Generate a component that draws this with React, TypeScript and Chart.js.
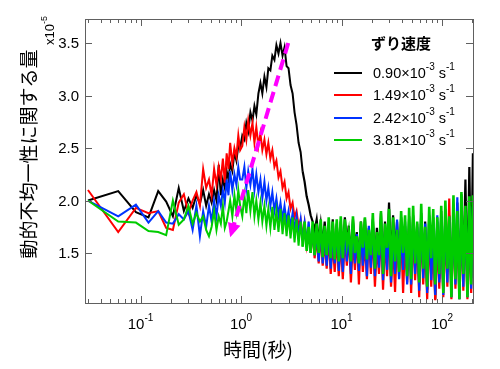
import React, { useEffect, useRef } from "react";
import { Chart, registerables } from "chart.js";

Chart.register(...registerables);

// ---- data (time in s, values ×10^-5) ----
const times = [
  0.03, 0.06, 0.09, 0.12, 0.15, 0.18, 0.21, 0.24, 0.27, 0.30, 0.33, 0.36, 0.39, 0.42, 0.45, 0.48,
  0.51, 0.54, 0.57, 0.60, 0.63, 0.66, 0.69, 0.72, 0.75, 0.78, 0.82, 0.86, 0.90, 0.94, 0.98,
  1.03, 1.08, 1.13, 1.18, 1.24, 1.30, 1.36, 1.42, 1.49, 1.56, 1.63, 1.71, 1.79, 1.87, 1.96, 2.05, 2.15, 2.25, 2.36, 2.47,
  2.59, 2.71, 2.84, 2.97, 3.11, 3.26, 3.41, 3.57, 3.74, 3.92, 4.10, 4.29, 4.50, 4.71, 4.93, 5.16, 5.40, 5.66, 5.93, 6.21,
  6.50, 6.80, 7.12, 7.46, 7.81, 8.18, 8.56, 8.97, 9.39, 9.83,
  10.3, 10.8, 11.3, 11.8, 12.4, 13.0, 13.6, 14.2, 14.9, 15.6, 16.3, 17.1, 17.9, 18.7, 19.6,
  20.5, 21.5, 22.5, 23.6, 24.7, 25.9, 27.1, 28.4, 29.7, 31.1, 32.6, 34.1, 35.7, 37.4, 39.2, 41.0, 42.9, 45.0, 47.1,
  49.3, 51.6, 54.0, 56.6, 59.3, 62.1, 65.0, 68.0, 71.2, 74.6, 78.1, 81.8, 85.6, 89.7, 93.9, 98.3,
  103, 108, 113, 118, 124, 130, 136, 142, 149, 156, 163, 171, 179, 187, 195, 203,
];

const black = [
  2.00, 2.09, 1.89, 1.84, 2.09, 1.99, 1.85, 2.12, 1.90, 2.02, 1.93, 2.05, 1.97, 2.10, 1.95, 2.06,
  1.98, 2.10, 2.00, 2.34, 2.05, 2.20, 2.12, 2.28, 2.20, 2.35, 2.28, 2.46, 2.38, 2.52, 2.50,
  2.62, 2.58, 2.74, 2.66, 2.84, 2.76, 2.90, 2.82, 3.02, 3.12, 3.02, 3.18, 3.08, 3.26, 3.24, 3.38, 3.34, 3.48, 3.40, 3.50,
  3.38, 3.46, 3.28, 3.26, 3.10, 3.02, 2.84, 2.72, 2.55, 2.46, 2.28, 2.18, 2.04, 1.96, 1.86, 1.80, 1.72, 1.82, 1.62, 1.78,
  1.58, 1.80, 1.55, 1.75, 1.50, 1.82, 1.45, 1.78, 1.40, 1.80,
  1.50, 1.84, 1.58, 1.76, 1.46, 1.82, 1.55, 1.70, 1.44, 1.80, 1.52, 1.83, 1.48, 1.74, 1.50,
  1.82, 1.42, 1.74, 1.50, 1.88, 1.38, 1.80, 1.46, 1.98, 1.42, 1.86, 1.52, 1.80, 1.40, 1.84, 1.48, 1.76, 1.32, 1.85,
  1.30, 1.86, 1.42, 1.78, 1.22, 1.88, 1.36, 1.80, 1.15, 1.86, 1.30, 1.84, 1.06, 1.80, 1.25, 1.90,
  1.18, 1.92, 1.32, 1.86, 1.20, 1.94, 1.28, 1.98, 1.16, 2.06, 1.30, 2.20, 1.14, 2.32, 1.26, 2.45,
];

const red = [
  2.10, 1.70, 1.93, 1.88, 1.90, 1.74, 1.72, 1.98, 2.06, 1.88, 2.00, 2.08, 1.95, 2.30, 2.12, 2.20,
  2.05, 2.30, 2.15, 2.32, 2.20, 2.40, 2.17, 2.45, 2.30, 2.55, 2.35, 2.50, 2.42, 2.62, 2.48,
  2.52, 2.70, 2.58, 2.76, 2.62, 2.74, 2.55, 2.70, 2.52, 2.64, 2.48, 2.58, 2.44, 2.55, 2.40, 2.48, 2.32, 2.38, 2.22, 2.28,
  2.12, 2.18, 2.02, 2.08, 1.92, 1.98, 1.84, 1.90, 1.76, 1.82, 1.66, 1.78, 1.58, 1.72, 1.52, 1.70, 1.45, 1.65, 1.40, 1.68,
  1.38, 1.62, 1.35, 1.66, 1.30, 1.60, 1.32, 1.65, 1.28, 1.62,
  1.25, 1.65, 1.38, 1.70, 1.22, 1.62, 1.34, 1.68, 1.20, 1.72, 1.32, 1.60, 1.25, 1.66, 1.30,
  1.70, 1.18, 1.58, 1.30, 1.72, 1.15, 1.64, 1.28, 1.75, 1.18, 1.60, 1.13, 1.68, 1.26, 1.70, 1.12, 1.62, 1.22, 1.74,
  1.12, 1.70, 1.24, 1.65, 1.08, 1.75, 1.20, 1.60, 1.06, 1.72, 1.18, 1.68, 1.05, 1.62, 1.16, 1.70,
  1.08, 1.72, 1.18, 2.02, 1.06, 1.78, 1.16, 1.72, 1.06, 1.75, 1.14, 1.80, 1.06, 1.70, 1.12, 1.76,
];

const blue = [
  2.00, 1.85, 1.96, 1.79, 1.90, 1.79, 1.78, 1.87, 1.82, 1.90, 1.72, 1.95, 1.66, 1.90, 1.75, 1.95,
  1.80, 2.00, 1.85, 2.05, 1.95, 2.10, 1.98, 2.20, 2.05, 2.28, 2.10, 2.25, 2.15, 2.32, 2.20,
  2.20, 2.32, 2.12, 2.28, 2.15, 2.30, 2.10, 2.25, 2.08, 2.20, 2.02, 2.18, 2.00, 2.12, 1.95, 2.08, 1.90, 2.02, 1.86, 1.98,
  1.82, 1.95, 1.80, 1.90, 1.75, 1.88, 1.72, 1.85, 1.68, 1.82, 1.62, 1.78, 1.58, 1.80, 1.50, 1.76, 1.48, 1.72, 1.42, 1.78,
  1.40, 1.70, 1.38, 1.75, 1.35, 1.70, 1.40, 1.76, 1.33, 1.72,
  1.32, 1.75, 1.42, 1.70, 1.30, 1.78, 1.40, 1.68, 1.33, 1.74, 1.38, 1.70, 1.28, 1.76, 1.36,
  1.78, 1.28, 1.66, 1.36, 1.80, 1.24, 1.70, 1.34, 1.78, 1.22, 1.68, 1.30, 1.82, 1.25, 1.72, 1.34, 1.80, 1.20, 1.76,
  1.20, 1.82, 1.30, 1.75, 1.14, 1.85, 1.26, 1.78, 1.12, 1.84, 1.24, 1.80, 1.10, 1.86, 1.22, 1.85,
  1.10, 1.88, 1.22, 1.84, 1.08, 1.90, 1.20, 2.03, 1.06, 1.92, 1.18, 1.88, 1.08, 1.95, 1.16, 1.94,
];

const green = [
  2.00, 1.80, 1.79, 1.71, 1.70, 1.67, 2.00, 1.77, 1.82, 1.95, 1.78, 1.88, 1.80, 1.85, 1.72, 1.66,
  1.75, 1.90, 1.72, 1.85, 1.78, 1.95, 1.74, 1.80, 1.90, 2.00, 1.85, 2.05, 1.90, 2.10, 1.95,
  1.85, 2.05, 1.88, 2.10, 1.90, 2.08, 1.85, 2.00, 1.82, 1.98, 1.80, 1.95, 1.76, 1.92, 1.74, 1.94, 1.72, 1.90, 1.70, 1.92,
  1.68, 1.88, 1.66, 1.86, 1.64, 1.84, 1.60, 1.82, 1.57, 1.80, 1.56, 1.80, 1.52, 1.75, 1.50, 1.80, 1.48, 1.78, 1.50, 1.82,
  1.46, 1.76, 1.48, 1.84, 1.45, 1.80, 1.44, 1.82, 1.42, 1.85,
  1.45, 1.82, 1.58, 1.70, 1.42, 1.85, 1.50, 1.66, 1.40, 1.80, 1.55, 1.84, 1.44, 1.72, 1.48,
  1.88, 1.35, 1.70, 1.48, 1.90, 1.30, 1.78, 1.55, 1.92, 1.28, 1.84, 1.42, 1.72, 1.32, 1.90, 1.50, 1.86, 1.28, 1.93,
  1.25, 1.95, 1.40, 1.80, 1.22, 1.97, 1.35, 1.75, 1.18, 1.94, 1.45, 1.92, 1.20, 1.84, 1.30, 1.95,
  1.12, 2.00, 1.35, 1.85, 1.08, 2.05, 1.25, 1.90, 1.06, 2.08, 1.30, 1.95, 1.08, 2.04, 1.20, 2.05,
];

const seriesRates = ["0.90", "1.49", "2.42", "3.81"];
const seriesColors = ["#000000", "#ff0000", "#0033ff", "#00cc00"];
const legendTitle = "ずり速度";

// arrow: [time, value] start and tip
const arrowStart = [2.95, 3.5];
const arrowTip = [0.78, 1.65];

const yTicks = [1.5, 2.0, 2.5, 3.0, 3.5];
const yTickLabels = ["1.5", "2.0", "2.5", "3.0", "3.5"];
const xMajor = [0.1, 1, 10, 100];
const xMajorExp = ["-1", "0", "1", "2"];
const xMinor = [0.03, 0.04, 0.05, 0.06, 0.07, 0.08, 0.09, 0.2, 0.3, 0.4, 0.5, 0.6, 0.7, 0.8, 0.9,
  2, 3, 4, 5, 6, 7, 8, 9, 20, 30, 40, 50, 60, 70, 80, 90, 200];

const xTitle = "時間(秒)";
const yTitle = "動的不均一性に関する量";

const FONT_NUM = '"Liberation Sans", Arial, sans-serif';
const FONT_JP = '"Noto Sans CJK JP", sans-serif';
const AXIS = "#606060";

const overlay = {
  id: "overlay",
  afterDatasetsDraw(chart: any) {
    const ctx = chart.ctx as CanvasRenderingContext2D;
    const { left, right, top, bottom } = chart.chartArea;
    const xs = chart.scales.x;
    const ys = chart.scales.y;
    ctx.save();

    // arrow head
    const sx = xs.getPixelForValue(arrowStart[0]);
    const sy = ys.getPixelForValue(arrowStart[1]);
    const tx = xs.getPixelForValue(arrowTip[0]);
    const ty = ys.getPixelForValue(arrowTip[1]);
    const ang = Math.atan2(ty - sy, tx - sx);
    const L = 14, W = 6.5;
    const bx = tx - L * Math.cos(ang), by = ty - L * Math.sin(ang);
    ctx.fillStyle = "#ff00ff";
    ctx.beginPath();
    ctx.moveTo(tx, ty);
    ctx.lineTo(bx + W * Math.sin(ang), by - W * Math.cos(ang));
    ctx.lineTo(bx - W * Math.sin(ang), by + W * Math.cos(ang));
    ctx.closePath();
    ctx.fill();

    // frame
    ctx.strokeStyle = AXIS;
    ctx.lineWidth = 1;
    ctx.strokeRect(Math.round(left) + 0.5, Math.round(top) + 0.5, Math.round(right - left), Math.round(bottom - top));

    // ticks
    ctx.beginPath();
    const tickX = (v: number, len: number) => {
      const p = Math.round(xs.getPixelForValue(v)) + 0.5;
      ctx.moveTo(p, bottom); ctx.lineTo(p, bottom - len);
      ctx.moveTo(p, top); ctx.lineTo(p, top + len);
    };
    xMajor.forEach((v) => tickX(v, 7));
    xMinor.forEach((v) => tickX(v, 4));
    yTicks.forEach((v) => {
      const p = Math.round(ys.getPixelForValue(v)) + 0.5;
      ctx.moveTo(left, p); ctx.lineTo(left + 7, p);
      ctx.moveTo(right, p); ctx.lineTo(right - 7, p);
    });
    ctx.stroke();

    ctx.fillStyle = "#000";
    // y tick labels
    ctx.font = `15px ${FONT_NUM}`;
    ctx.textAlign = "right";
    ctx.textBaseline = "middle";
    yTicks.forEach((v, i) => ctx.fillText(yTickLabels[i], left - 6, ys.getPixelForValue(v) + 1));

    // x tick labels with superscript
    ctx.textAlign = "left";
    ctx.textBaseline = "alphabetic";
    xMajor.forEach((v, i) => {
      const p = xs.getPixelForValue(v);
      ctx.font = `15px ${FONT_NUM}`;
      const wb = ctx.measureText("10").width;
      ctx.font = `10px ${FONT_NUM}`;
      const ws = ctx.measureText(xMajorExp[i]).width;
      const x0 = p - (wb + ws) / 2;
      ctx.font = `15px ${FONT_NUM}`;
      ctx.fillText("10", x0, bottom + 26);
      ctx.font = `10px ${FONT_NUM}`;
      ctx.fillText(xMajorExp[i], x0 + wb, bottom + 18);
    });

    // x title
    ctx.font = `19px ${FONT_JP}`;
    ctx.textAlign = "center";
    ctx.textBaseline = "middle";
    ctx.fillText(xTitle, 258, 350);

    // y title
    ctx.save();
    ctx.translate(29, 154);
    ctx.rotate(-Math.PI / 2);
    ctx.fillText(yTitle, 0, 0);
    ctx.restore();

    // x10^-5
    ctx.save();
    ctx.translate(54, 45);
    ctx.rotate(-Math.PI / 2);
    ctx.textAlign = "left";
    ctx.textBaseline = "alphabetic";
    ctx.font = `13px ${FONT_NUM}`;
    ctx.fillText("x10", 0, 0);
    const wx = ctx.measureText("x10").width;
    ctx.font = `9px ${FONT_NUM}`;
    ctx.fillText("-5", wx, -7);
    ctx.restore();

    // legend
    ctx.font = `bold 15px ${FONT_JP}`;
    ctx.textAlign = "left";
    ctx.textBaseline = "middle";
    ctx.fillText(legendTitle, 371, 43);
    const rows = [73, 95, 118, 140];
    seriesRates.forEach((r, i) => {
      const y = rows[i];
      ctx.strokeStyle = seriesColors[i];
      ctx.lineWidth = 2;
      ctx.beginPath();
      ctx.moveTo(334, y); ctx.lineTo(362, y);
      ctx.stroke();
      ctx.textBaseline = "alphabetic";
      let x = 373;
      const base = y + 5;
      ctx.font = `14.5px ${FONT_NUM}`;
      const t1 = `${r}×10`;
      ctx.fillText(t1, x, base); x += ctx.measureText(t1).width;
      ctx.font = `10px ${FONT_NUM}`;
      ctx.fillText("-3", x, base - 8); x += ctx.measureText("-3").width;
      ctx.font = `14.5px ${FONT_NUM}`;
      ctx.fillText(" s", x, base); x += ctx.measureText(" s").width;
      ctx.font = `10px ${FONT_NUM}`;
      ctx.fillText("-1", x, base - 8);
    });

    ctx.restore();
  },
};

export default function App() {
  const ref = useRef<HTMLCanvasElement | null>(null);
  useEffect(() => {
    if (!ref.current) return;
    const mk = (vals: number[]) => times.map((t, i) => ({ x: t, y: vals[i] }));
    const all = [black, red, blue, green];
    const datasets: any[] = all.map((vals, i) => ({
      label: `${seriesRates[i]}×10^-3 s^-1`,
      data: mk(vals),
      borderColor: seriesColors[i],
      borderWidth: 2,
      segment: {
        // dense noisy tail drawn a little heavier so it reads as a band
        borderWidth: (c: any) => (c.p0.parsed.x >= 4 ? (i === 3 ? 2.6 : 2.2) : 2),
      },
      pointRadius: 0,
      tension: 0,
      fill: false,
      order: 4 - i, // later series drawn on top
    }));
    datasets.push({
      label: "arrow",
      data: [
        { x: arrowStart[0], y: arrowStart[1] },
        { x: arrowTip[0], y: arrowTip[1] },
      ],
      borderColor: "#ff00ff",
      borderWidth: 4,
      borderDash: [11, 6],
      pointRadius: 0,
      fill: false,
      order: 0,
    });
    const chart = new Chart(ref.current, {
      type: "line",
      data: { datasets },
      options: {
        animation: false,
        responsive: false,
        devicePixelRatio: 1,
        events: [],
        layout: { padding: { left: 85, right: 27, top: 19, bottom: 66 } },
        scales: {
          x: { type: "logarithmic", min: 0.02803, max: 203.4, display: false },
          y: { type: "linear", min: 1.024, max: 3.729, display: false },
        },
        plugins: { legend: { display: false }, tooltip: { enabled: false } },
      } as any,
      plugins: [overlay],
    });
    return () => chart.destroy();
  }, []);
  return (
    <div style={{ position: "absolute", left: 0, top: 0, width: 500, height: 369, background: "#fff" }}>
      <canvas ref={ref} width={500} height={369} style={{ width: 500, height: 369 }} />
    </div>
  );
}
